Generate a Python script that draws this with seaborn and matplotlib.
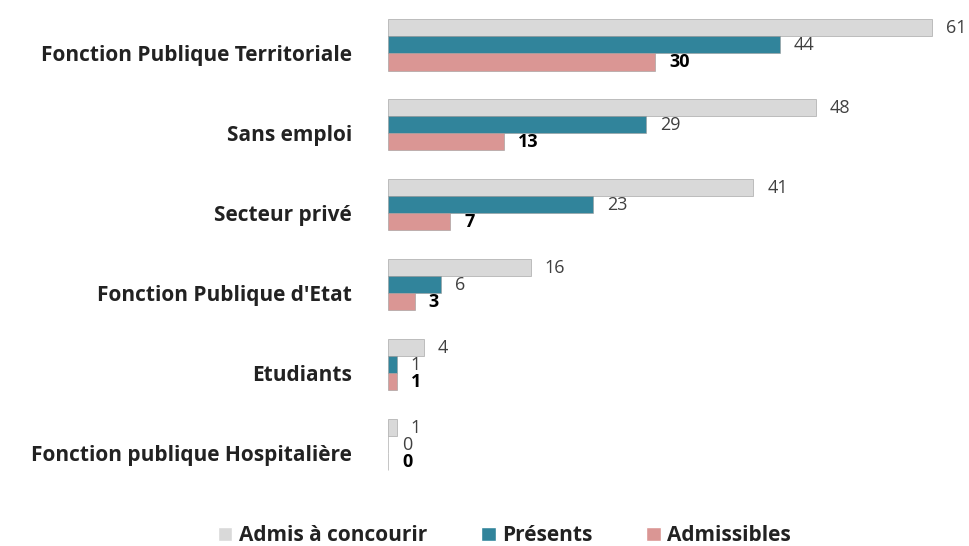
import matplotlib.pyplot as plt
import matplotlib.transforms as mtransforms
import seaborn as sns
import pandas as pd
from matplotlib.patches import Patch

categories = ["Fonction Publique Territoriale", "Sans emploi", "Secteur privé",
              "Fonction Publique d'Etat", "Etudiants", "Fonction publique Hospitalière"]
series = ["Admis à concourir", "Présents", "Admissibles"]
admis = [61, 48, 41, 16, 4, 1]
presents = [44, 29, 23, 6, 1, 0]
admissibles = [30, 13, 7, 3, 1, 0]
colors = ["#D9D9D9", "#31849B", "#DA9694"]

rows = []
for i, cat in enumerate(categories):
    for s, vals in zip(series, [admis, presents, admissibles]):
        rows.append({"Catégorie": cat, "Série": s, "Valeur": vals[i]})
df = pd.DataFrame(rows)

sns.set_style("white")
plt.rcParams["font.family"] = ["Open Sans", "DejaVu Sans"]

fig = plt.figure(figsize=(9.7, 5.46), dpi=100)
ax = fig.add_axes([0.4, 0.112, 0.6, 0.879])
sns.barplot(data=df, x="Valeur", y="Catégorie", hue="Série", palette=colors,
            orient="h", width=0.64, ax=ax, legend=False, saturation=1,
            edgecolor="#9a9a9a", linewidth=0.4)

for cont, s in zip(ax.containers, series):
    if s == "Admissibles":
        ax.bar_label(cont, padding=10, fontsize=13, fontweight="bold", color="black")
    else:
        ax.bar_label(cont, padding=10, fontsize=13, color="#404040")

ax.set_xlim(0, 65.3)
ax.set_xlabel("")
ax.set_ylabel("")
ax.set_xticks([])
ax.tick_params(axis="y", length=0, pad=26)
shift = mtransforms.ScaledTranslation(0, -8 / 100, fig.dpi_scale_trans)
for lab in ax.get_yticklabels():
    lab.set_fontweight("bold")
    lab.set_fontsize(15)
    lab.set_color("#222222")
    lab.set_transform(lab.get_transform() + shift)
for sp in ax.spines.values():
    sp.set_visible(False)

handles = [Patch(facecolor=c, label=s) for c, s in zip(colors, series)]
leg = fig.legend(handles=handles, loc="lower center", bbox_to_anchor=(0.52, -0.035),
                 ncol=3, frameon=False, handlelength=0.7, handleheight=0.7,
                 handletextpad=0.3, columnspacing=2.6,
                 prop={"weight": "bold", "size": 15})
for t in leg.get_texts():
    t.set_color("#222222")

fig.savefig("out.png", dpi=100)
